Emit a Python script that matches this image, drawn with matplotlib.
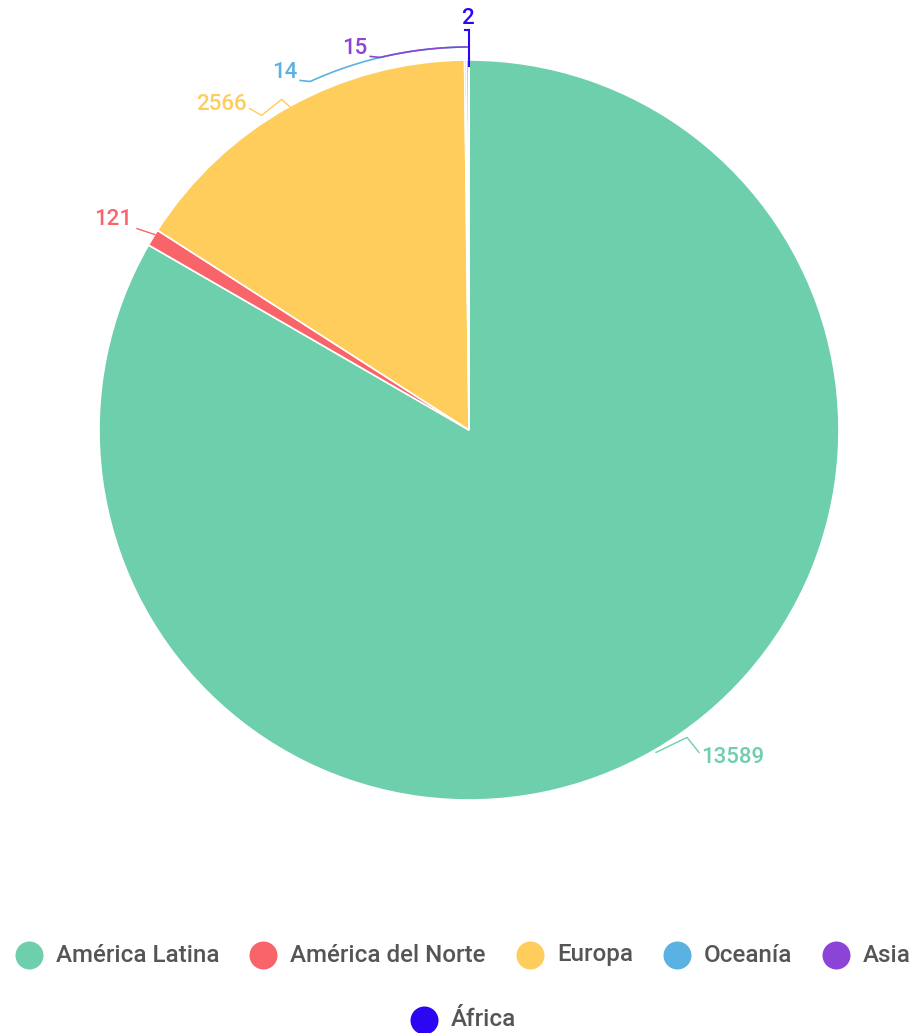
import numpy as np
import matplotlib
matplotlib.use("Agg")
from matplotlib import pyplot as plt

regions = ["América Latina", "América del Norte", "Europa", "Oceanía", "Asia", "África"]
counts = [13589, 121, 2566, 14, 15, 2]
colors = ["#6dcfab", "#f9646b", "#fecd5b", "#5ab2e2", "#8c44d6", "#2a06f2"]

W, H = 910, 1033
plt.rcParams['font.family'] = ['Roboto', 'DejaVu Sans']

fig = plt.figure(figsize=(W / 100, H / 100), dpi=100)
ax = fig.add_axes([0, 0, 1, 1])

cx, cy, R = 469, H - 430, 370
wedges, _ = ax.pie(counts, colors=colors, startangle=90, counterclock=False,
                   center=(cx, cy), radius=R, frame=True,
                   wedgeprops=dict(edgecolor="white", linewidth=1.2))
ax.set_xlim(0, W)
ax.set_ylim(0, H)
ax.axis("off")

def pt(ang, r):
    # ang in degrees clockwise from 12 o'clock
    a = np.radians(ang)
    return cx + r * np.sin(a), cy + r * np.cos(a)

bounds = np.concatenate([[0], np.cumsum(counts)]) / sum(counts) * 360
mids = (bounds[:-1] + bounds[1:]) / 2
vfs = 16

# big slices: short kinked leader lines (offsets in px from the rim point)
big = {0: ([(2, -2), (33, 13), (45, -2)], (2, -5), "left"),
       1: ([(2, 3), (-16, 9)], (-5, 9), "right"),
       2: ([(0, 0), (-8, 7), (-28, -9), (-40, -2)], (-3, 4), "right")}
for i, (pts, (tx, ty), ha) in big.items():
    x0, y0 = pt(mids[i], R)
    xs = [x0 + dx for dx, dy in pts]
    ys = [y0 + dy for dx, dy in pts]
    ax.plot(xs, ys, color=colors[i], lw=1)
    ax.text(xs[-1] + tx, ys[-1] + ty, str(counts[i]), color=colors[i],
            fontsize=vfs, ha=ha, va="center", fontweight="medium")

# tiny slices: arc along the rim, then tail to the label
Ra = R + 13
for i, end in [(3, 335.5), (4, 346.6)]:
    angs = np.linspace(mids[i], end, 60)
    xs, ys = pt(angs, Ra)
    xs = np.append(xs, xs[-1] - 10)
    ys = np.append(ys, ys[-1] + 1)
    ax.plot(xs, ys, color=colors[i], lw=1.2)
    ax.text(xs[-1] - 3, ys[-1] + 8, str(counts[i]), color=colors[i],
            fontsize=vfs, ha="right", va="center", fontweight="medium")
x0, y0 = pt(mids[5], R)
ax.plot([x0, x0], [y0 - 6, y0 + 30], color=colors[5], lw=1.5)
ax.plot([x0 - 4, x0], [y0 + 30, y0 + 30], color=colors[5], lw=1.5)
ax.text(x0 - 1, y0 + 42, str(counts[5]), color=colors[5], fontsize=vfs,
        ha="center", va="center", fontweight="medium")

# legend, wrapped and centered like the original
fig.canvas.draw()
rend = fig.canvas.get_renderer()
fs = 17.4
widths = []
for lab in regions:
    t = ax.text(0, 0, lab, fontsize=fs, fontweight="medium")
    widths.append(t.get_window_extent(rend).width)
    t.remove()
mk, gap_txt, gap_item = 28, 13, 30
item_w = [mk + gap_txt + w for w in widths]
rows, row = [], []
for i, w in enumerate(item_w):
    cur = sum(item_w[j] for j in row) + gap_item * len(row)
    if row and cur + w > W - 2:
        rows.append(row)
        row = []
    row.append(i)
rows.append(row)
for r_i, row in enumerate(rows):
    total = sum(item_w[j] for j in row) + gap_item * (len(row) - 1)
    x = (W - total) / 2 + 8
    y = H - 955 - r_i * 65
    for j in row:
        ax.scatter([x + mk / 2], [y], s=(mk * 0.72) ** 2, color=colors[j], lw=0)
        ax.text(x + mk + gap_txt, y, regions[j], fontsize=fs, color="#555555",
                ha="left", va="center", fontweight="medium")
        x += item_w[j] + gap_item

fig.savefig("out.png", dpi=100)
